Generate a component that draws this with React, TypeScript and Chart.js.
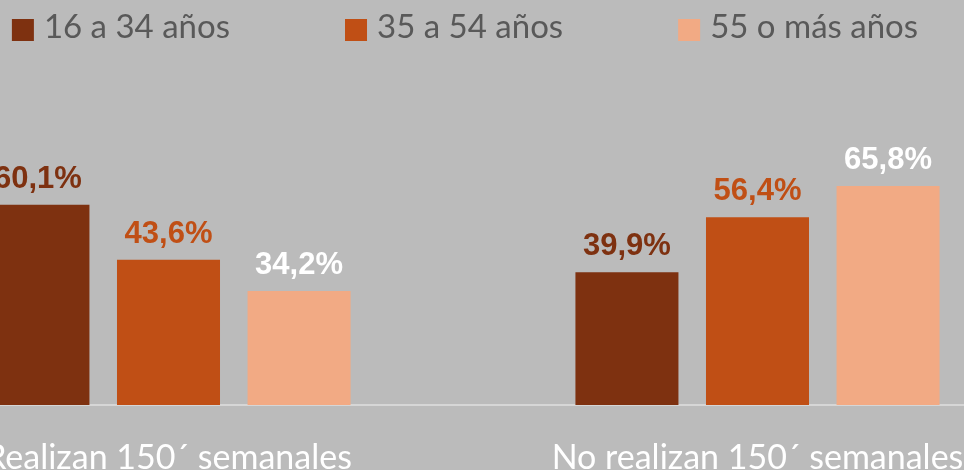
import React, { useEffect, useRef } from "react";
import { Chart, registerables } from "chart.js";

Chart.register(...registerables);

const categories = ["Realizan 150´ semanales", "No realizan 150´ semanales"];
const seriesNames = ["16 a 34 años", "35 a 54 años", "55 o más años"];
const values16a34 = [60.1, 39.9];
const values35a54 = [43.6, 56.4];
const values55mas = [34.2, 65.8];
const barColors = ["#7E3110", "#C04F15", "#F2AA84"];
const valueLabelColors = ["#7E3110", "#C04F15", "#FFFFFF"];

const BG = "#BBBBBB";
const TEXT_FONT = "Lato";

const legendPlugin = {
  id: "customLegend",
  afterDraw(chart: any) {
    const ctx = chart.ctx;
    const ds = chart.data.datasets;
    const box = 22;
    const boxGap = 10;
    const itemGap = 115;
    ctx.save();
    ctx.font = `33px ${TEXT_FONT}`;
    const widths = ds.map((d: any) => box + boxGap + ctx.measureText(d.label).width);
    const total = widths.reduce((a: number, b: number) => a + b, 0) + itemGap * (ds.length - 1);
    let x = chart.width / 2 - total / 2 + 2;
    ds.forEach((d: any, i: number) => {
      ctx.fillStyle = d.backgroundColor;
      ctx.fillRect(x, 19, box, box);
      ctx.fillStyle = "#595959";
      ctx.textAlign = "left";
      ctx.textBaseline = "alphabetic";
      ctx.fillText(d.label, x + box + boxGap, 38);
      x += widths[i] + itemGap;
    });
    ctx.restore();
  },
};

const valueLabelPlugin = {
  id: "valueLabels",
  afterDatasetsDraw(chart: any) {
    const ctx = chart.ctx;
    ctx.save();
    ctx.font = `bold 31px "Liberation Sans", Arial, sans-serif`;
    ctx.textAlign = "center";
    ctx.textBaseline = "alphabetic";
    chart.data.datasets.forEach((d: any, i: number) => {
      const meta = chart.getDatasetMeta(i);
      meta.data.forEach((el: any, j: number) => {
        const v = d.data[j] as number;
        ctx.fillStyle = valueLabelColors[i];
        ctx.fillText(v.toFixed(1).replace(".", ",") + "%", el.x, el.y - 17);
      });
    });
    ctx.restore();
  },
};

export default function App() {
  const ref = useRef<HTMLCanvasElement | null>(null);

  useEffect(() => {
    document.body.style.margin = "0";
    if (!ref.current) return;
    const chart = new Chart(ref.current, {
      type: "bar",
      data: {
        labels: categories,
        datasets: [values16a34, values35a54, values55mas].map((vals, i) => ({
          label: seriesNames[i],
          data: vals,
          backgroundColor: barColors[i],
          borderWidth: 0,
          barPercentage: 0.789,
          categoryPercentage: 0.665,
        })),
      },
      options: {
        responsive: false,
        animation: false,
        devicePixelRatio: 1,
        layout: { padding: { top: 72, left: 0, right: 0, bottom: 0 } },
        plugins: {
          legend: { display: false },
          tooltip: { enabled: false },
        },
        scales: {
          x: {
            grid: { display: false },
            border: { display: true, color: "#D6D6D6", width: 2 },
            ticks: {
              color: "#FFFFFF",
              font: { family: TEXT_FONT, size: 34 },
              padding: 25,
              maxRotation: 0,
              autoSkip: false,
            },
            afterFit: (scale: any) => {
              scale.height = 95;
            },
          },
          y: {
            display: false,
            min: 0,
            max: 100,
          },
        },
      },
      plugins: [legendPlugin, valueLabelPlugin],
    });
    return () => chart.destroy();
  }, []);

  return (
    <div
      style={{
        position: "relative",
        width: 964,
        height: 470,
        overflow: "hidden",
        background: BG,
      }}
    >
      <canvas
        ref={ref}
        width={1178}
        height={500}
        style={{ position: "absolute", left: -126, top: 0, width: 1178, height: 500 }}
      />
    </div>
  );
}
